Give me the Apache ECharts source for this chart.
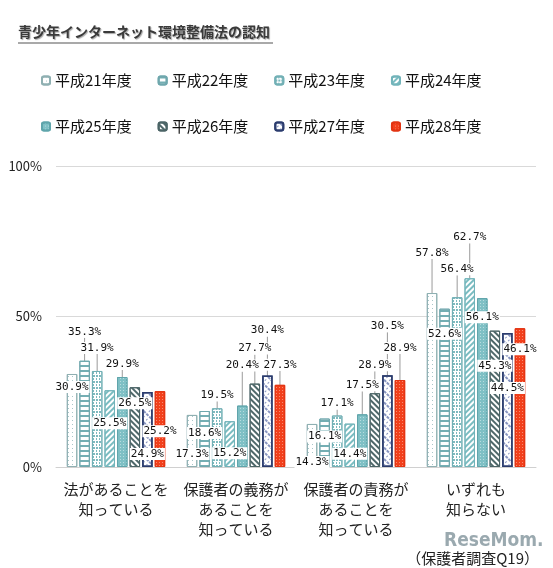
<!DOCTYPE html>
<html>
<head>
<meta charset="utf-8">
<script src="https://cdn.jsdelivr.net/npm/echarts@6/dist/echarts.min.js"></script>
<style>
html,body{margin:0;padding:0;background:#fff;}
#c{width:553px;height:568px;}
</style>
</head>
<body>
<div id="c"></div>
<script>
// ---- data ----
const categories = [
  '法があることを\n知っている',
  '保護者の義務が\nあることを\n知っている',
  '保護者の責務が\nあることを\n知っている',
  'いずれも\n知らない'
];
const seriesNames = ['平成21年度','平成22年度','平成23年度','平成24年度','平成25年度','平成26年度','平成27年度','平成28年度'];
const h21 = [30.9, 17.3, 14.3, 57.8];
const h22 = [35.3, 18.6, 16.1, 52.6];
const h23 = [31.9, 19.5, 17.1, 56.4];
const h24 = [25.5, 15.2, 14.4, 62.7];
const h25 = [29.9, 20.4, 17.5, 56.1];
const h26 = [26.5, 27.7, 24.5, 45.3];   // bar heights as drawn
const h27 = [24.9, 30.4, 30.5, 44.5];
const h28 = [25.2, 27.3, 28.9, 46.1];
// labels as printed in the reference (the H26 third label reads 28.9%)
const h26Printed = ['26.5%', '27.7%', '28.9%', '45.3%'];
const yTicks = [0, 50, 100];

const values = [h21, h22, h23, h24, h25, h26, h27, h28];

// ---- layout (label vertical offsets from bar top, px) ----
const labelDy = [
  [13, 39, 38, -40],
  [-29, 22, 18, 25],
  [-23, -13, -12, -28],
  [33, 32, 30, -41],
  [-13, -40, -29, 19],
  [16, -35, -28, 35],
  [62, -45, -49, 55],
  [40, -20, -32, 21]
];

// ---- styles ----
const styles = [
  {color:'#ffffff', border:'#8fb0b2', decal:{symbol:'rect', symbolSize:1, dashArrayX:[1,2.5], dashArrayY:[1,2.5], color:'#a9c7c9'}},
  {color:'#ffffff', border:'#6fa7ad', decal:{symbol:'rect', symbolSize:1, dashArrayX:[1,0], dashArrayY:[1.3,2.2], color:'#74aeb3'}},
  {color:'#ffffff', border:'#72b0b5', decal:{symbol:'rect', symbolSize:1, dashArrayX:[[2,1],[1,2]], dashArrayY:[1.5,1], color:'#7db9be'}},
  {color:'#ffffff', border:'#72b4ba', decal:{symbol:'rect', symbolSize:1, dashArrayX:[1,0], dashArrayY:[1.6,1.6], rotation:-Math.PI/4, color:'#7abcc1'}},
  {color:'#7fc0c5', border:'#5fa5ab', decal:{symbol:'rect', symbolSize:1, dashArrayX:[1,2], dashArrayY:[1,2], color:'#b7dcdf'}},
  {color:'#ffffff', border:'#4b6466', decal:{symbol:'rect', symbolSize:1, dashArrayX:[1,0], dashArrayY:[1.6,1.6], rotation:Math.PI/4, color:'#4f686a'}},
  {color:'#ffffff', border:'#2b3c6e', decal:{symbol:'rect', symbolSize:1, dashArrayX:[[3,1],[1,3]], dashArrayY:[1.5,1.5], rotation:Math.PI/4, color:'#8895c0'}},
  {color:'#f2401c', border:'#e23412', decal:{symbol:'rect', symbolSize:1, dashArrayX:[1,2], dashArrayY:[1,2], color:'#f88a70'}}
];

function labelText(s, d) {
  if (s === 5) return h26Printed[d];
  return values[s][d].toFixed(1) + '%';
}

const series = seriesNames.map((name, s) => ({
  name: name,
  type: 'bar',
  barGap: '20%',
  barCategoryGap: '18%',
  animation: false,
  itemStyle: {
    color: styles[s].color,
    borderColor: styles[s].border,
    borderWidth: s === 6 ? 1.5 : 1,
    decal: styles[s].decal
  },
  label: {
    show: true,
    position: 'top',
    formatter: (p) => labelText(s, p.dataIndex),
    fontFamily: 'DejaVu Sans Mono',
    fontSize: 11,
    color: '#111',
    backgroundColor: '#ffffff',
    padding: [1, 1, 0, 1]
  },
  labelLine: {
    show: true,
    lineStyle: {color: '#9a9a9a', width: 1}
  },
  labelLayout: function (params) {
    const r = params.rect;
    return {
      x: r.x + r.width / 2,
      y: r.y + labelDy[s][params.dataIndex],
      align: 'center',
      verticalAlign: 'middle'
    };
  },
  data: values[s].map((v, d) => ({
    value: v,
    labelLine: {show: labelDy[s][d] < -8}
  }))
}));

const chart = echarts.init(document.getElementById('c'), null, {renderer: 'canvas'});
const legendText = {fontFamily: '"Noto Sans CJK JP", sans-serif', fontSize: 15, color: '#111'};
chart.setOption({
  backgroundColor: '#ffffff',
  animation: false,
  legend: [
    {data: seriesNames.slice(0, 4), left: 36, top: 68, itemWidth: 8, itemHeight: 8, itemGap: 26, textStyle: legendText, selectedMode: false},
    {data: seriesNames.slice(4, 8), left: 36, top: 114, itemWidth: 8, itemHeight: 8, itemGap: 26, textStyle: legendText, selectedMode: false}
  ],
  grid: {left: 56, right: 17, top: 166, bottom: 101},
  xAxis: {
    type: 'category',
    data: categories,
    axisTick: {show: false},
    axisLine: {show: true, lineStyle: {color: '#d0d0d0'}},
    axisLabel: {
      interval: 0,
      margin: 12,
      fontFamily: '"Noto Sans CJK JP", sans-serif',
      fontSize: 15,
      lineHeight: 20,
      color: '#222'
    }
  },
  yAxis: {
    type: 'value',
    min: yTicks[0],
    max: yTicks[yTicks.length - 1],
    interval: yTicks[1] - yTicks[0],
    axisLine: {show: false},
    axisTick: {show: false},
    splitLine: {lineStyle: {color: '#d9d9d9'}},
    axisLabel: {
      margin: 14,
      formatter: '{value}%',
      fontFamily: '"Noto Sans CJK JP", sans-serif',
      fontSize: 13,
      color: '#222'
    }
  },
  graphic: [
    {type: 'text', left: 18, top: 25, style: {text: '青少年インターネット環境整備法の認知', font: 'bold 14px "Noto Sans CJK JP", sans-serif', fill: '#3a3a3a', textShadowColor: 'rgba(0,0,0,0.35)', textShadowOffsetX: 1, textShadowOffsetY: 1, textShadowBlur: 1}},
    {type: 'line', shape: {x1: 18, y1: 43, x2: 273, y2: 43}, style: {stroke: '#555', lineWidth: 1.2}},
    {type: 'text', left: 444, top: 532, style: {text: 'ReseMom.', font: 'bold 19px "DejaVu Sans Condensed", sans-serif', fill: 'rgba(120,140,148,0.75)'}},
    {type: 'text', right: 14, top: 551, style: {text: '（保護者調査Q19）', font: '15px "Noto Sans CJK JP", sans-serif', fill: '#222'}}
  ],
  series: series
});
</script>
</body>
</html>
